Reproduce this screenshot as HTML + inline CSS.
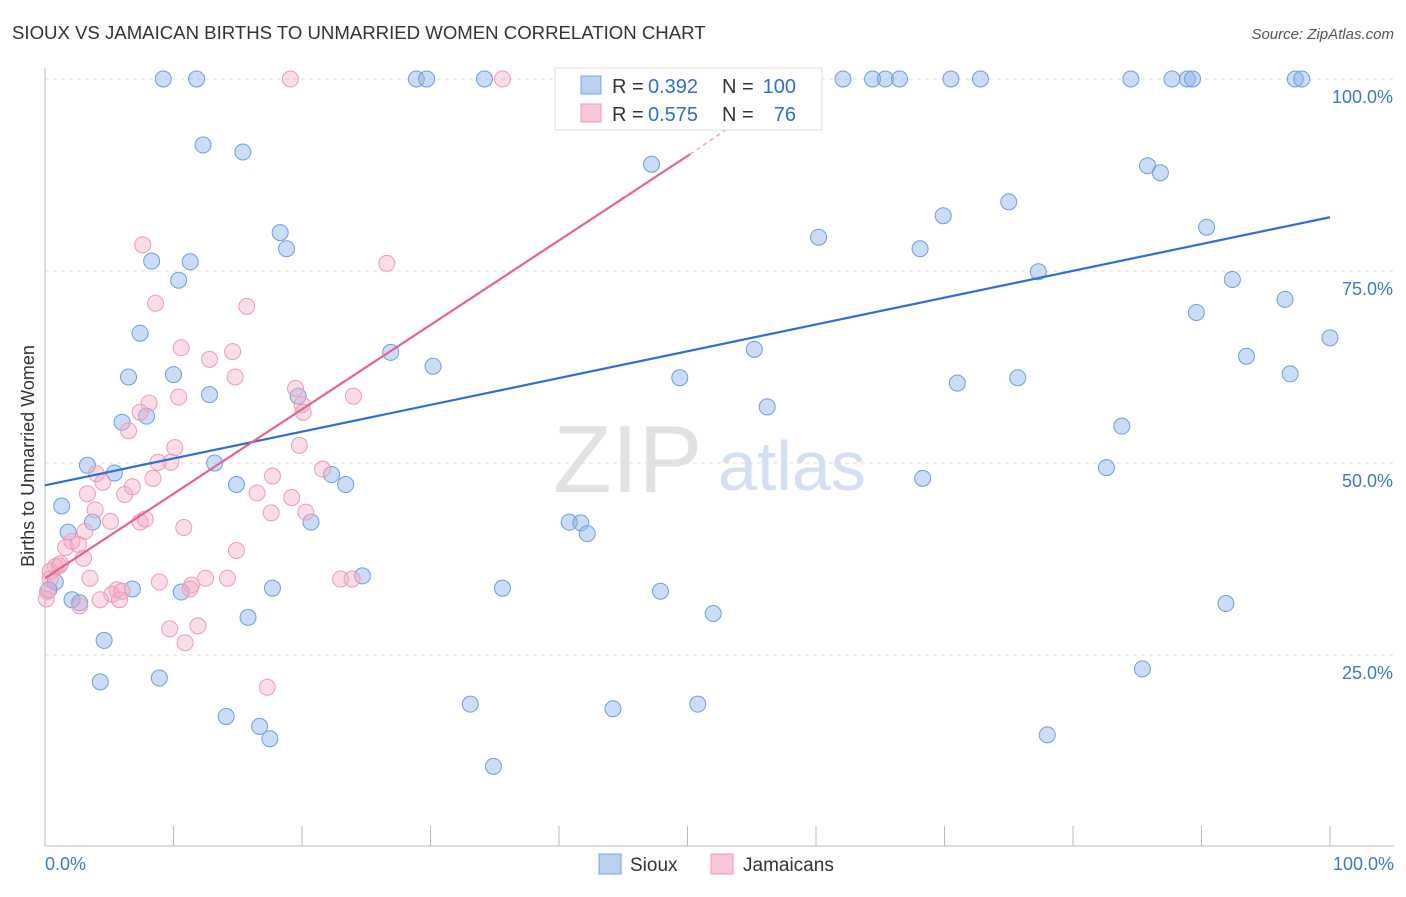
<!DOCTYPE html>
<html><head><meta charset="utf-8"><style>
body{margin:0;background:#fff;font-family:"Liberation Sans",sans-serif;}
svg text{font-family:"Liberation Sans",sans-serif;}
</style></head><body>
<svg id="c" width="1406" height="892">
<text x="12" y="39" font-size="18.6" fill="#333">SIOUX VS JAMAICAN BIRTHS TO UNMARRIED WOMEN CORRELATION CHART</text>
<text x="1394" y="39" font-size="15" fill="#555" font-style="italic" text-anchor="end">Source: ZipAtlas.com</text>
<text x="34" y="456" font-size="18" fill="#333" transform="rotate(-90 34 456)" text-anchor="middle">Births to Unmarried Women</text>
<text x="553" y="492" font-size="96" fill="#e2e2e2" font-family="Liberation Serif">ZIP</text>
<text x="718" y="490" font-size="70" fill="#d3e0f2">atlas</text>
<g id="grid"></g><g id="pts"></g><g id="lines"></g>
<g>
<rect x="555" y="68" width="267" height="62" fill="#fff" stroke="#ddd"/>
<rect x="581" y="76" width="20" height="18" fill="#b9d0f2" stroke="#7aa3e0"/>
<text x="612" y="93" font-size="20" fill="#333">R =</text>
<text x="648" y="93" font-size="20" fill="#2d6fcf">0.392</text>
<text x="722" y="93" font-size="20" fill="#333">N =</text>
<text x="796" y="93" font-size="20" fill="#2d6fcf" text-anchor="end">100</text>
<rect x="581" y="104" width="20" height="18" fill="#f8c6d6" stroke="#ee9ab6"/>
<text x="612" y="121" font-size="20" fill="#333">R =</text>
<text x="648" y="121" font-size="20" fill="#2d6fcf">0.575</text>
<text x="722" y="121" font-size="20" fill="#333">N =</text>
<text x="796" y="121" font-size="20" fill="#2d6fcf" text-anchor="end">76</text>
</g>
<g>
<rect x="599" y="854" width="22" height="20" fill="#b9d0f2" stroke="#7aa3e0"/>
<text x="630" y="871" font-size="19" fill="#333">Sioux</text>
<rect x="711" y="854" width="22" height="20" fill="#f8c6d6" stroke="#ee9ab6"/>
<text x="743" y="871" font-size="19" fill="#333">Jamaicans</text>
</g>
<text x="45" y="870" font-size="18" fill="#3a78d4">0.0%</text>
<text x="1394" y="870" font-size="18" fill="#3a78d4" text-anchor="end">100.0%</text>
</svg>
<script>
const yTicks=[100,75,50,25];
const yTickLabels=["100.0%","75.0%","50.0%","25.0%"];
const siouxX=[9.2,11.8,28.9,29.7,34.2,43.3,50.2,59.7,62.1,64.4,65.4,66.5,70.5,72.8,84.5,87.7,88.9,89.3,97.3,97.8,12.3,15.4,47.2,85.8,86.8,75,69.9,90.4,18.3,18.8,60.2,68.1,8.3,11.3,10.4,77.3,92.4,96.5,89.6,100,7.4,26.9,55.2,30.2,93.5,6.5,10,49.4,71,75.7,96.9,12.8,19.7,56.2,6,7.9,83.8,13.2,68.3,82.6,3.3,5.4,22.3,14.9,23.4,1.3,3.7,1.8,20.7,40.8,41.7,42.2,0.8,6.8,10.6,17.7,35.6,24.7,2.1,2.7,47.9,52,15.8,91.9,4.6,8.9,4.3,85.4,33.1,50.8,44.2,14.1,16.7,17.5,78,34.9,0.3];
const siouxY=[100,100,100,100,100,100,100,100,100,100,100,100,100,100,100,100,100,100,100,100,91.4,90.5,88.9,88.7,87.8,84,82.2,80.7,80,77.9,79.4,77.9,76.3,76.2,73.8,74.9,73.9,71.3,69.6,66.3,66.9,64.4,64.8,62.6,63.9,61.2,61.5,61.1,60.4,61.1,61.6,58.9,58.7,57.3,55.3,56.1,54.8,50,48,49.4,49.7,48.7,48.5,47.2,47.2,44.4,42.3,41,42.3,42.3,42.2,40.8,34.5,33.6,33.2,33.7,33.7,35.3,32.2,31.8,33.3,30.4,29.9,31.7,26.9,22,21.5,23.2,18.6,18.6,18,17,15.7,14.1,14.6,10.5,33.5];
const jamX=[19.1,35.6,7.6,26.6,8.6,15.7,10.6,12.8,14.6,14.8,19.5,10.4,8.1,20,24,20.1,7.4,6.5,10.1,19.8,8.8,9.8,21.6,4,17.7,4.5,8.4,6.2,6.8,3.3,16.5,19.2,5.1,7.4,7.8,20.3,17.6,3.9,10.8,3.1,2.1,1.6,2.6,1.1,3,14.9,0.8,0.4,0.1,0.2,3.5,8.9,11.4,12.5,14.2,23,23.9,11.3,4.3,5.6,5.2,5.8,6,2.7,9.7,11.9,10.9,17.3,1.2,0.4];
const jamY=[100,100,78.4,76,70.8,70.4,65,63.5,64.5,61.2,59.7,58.6,57.8,57.6,58.7,56.6,56.6,54.2,52,52.3,50.1,50.1,49.2,48.6,48.3,47.5,48,45.9,46.9,46,46.1,45.5,42.4,42.3,42.7,43.6,43.5,43.9,41.6,41.1,39.8,39,39.4,36.6,37.6,38.6,36.5,35.9,32.3,33.3,35,34.5,34.1,35,35,34.9,34.9,33.6,32.2,33.5,32.9,32.2,33.3,31.4,28.4,28.8,26.6,20.8,36.9,34.9];
const siouxLine=[0,47.1,100,82];
const jamLine=[0,35,50.2,90.2,55.2,95.9];
const sx=v=>45+v*12.85, sy=v=>847-v*7.68;
const ns='http://www.w3.org/2000/svg';
function mk(t,a,p){const e=document.createElementNS(ns,t);for(const k in a)e.setAttribute(k,a[k]);p.appendChild(e);return e;}
const grid=document.getElementById('grid');
yTicks.forEach((t,i)=>{
 const l=mk('line',{x1:45,x2:1394,y1:sy(t),y2:sy(t),stroke:'#ddd','stroke-dasharray':'4,4'},grid);
 
 
 const tx=mk('text',{x:1393,y:sy(t)+24,'font-size':18,fill:'#3a78d4','text-anchor':'end'},grid);
 tx.textContent=yTickLabels[i];
 
 
});
const ax=mk('line',{x1:45,x2:45,y1:68,y2:846,stroke:'#bbb'},grid);


const bx=mk('line',{x1:45,x2:1394,y1:846,y2:846,stroke:'#bbb'},grid);


for(let i=0;i<=10;i++){const t=mk('line',{x1:sx(i*10),x2:sx(i*10),y1:826,y2:846,stroke:'#bbb'},grid);
 
 }
const pts=document.getElementById('pts');
siouxX.forEach((x,i)=>{const c=mk('circle',{cx:sx(x),cy:sy(siouxY[i]),r:8,fill:'rgba(140,180,235,0.45)',stroke:'#6d9de0','stroke-width':1},pts);
 
 });
jamX.forEach((x,i)=>{const c=mk('circle',{cx:sx(x),cy:sy(jamY[i]),r:8,fill:'rgba(245,170,195,0.4)',stroke:'#ef9ab8','stroke-width':1},pts);
 
 });
const lines=document.getElementById('lines');
const b=mk('line',{x1:sx(siouxLine[0]),y1:sy(siouxLine[1]),x2:sx(siouxLine[2]),y2:sy(siouxLine[3]),stroke:'#2d6fd6','stroke-width':2.2},lines);


const p=mk('line',{x1:sx(jamLine[0]),y1:sy(jamLine[1]),x2:sx(jamLine[2]),y2:sy(jamLine[3]),stroke:'#e8628e','stroke-width':2.2},lines);


const pd=mk('line',{x1:sx(jamLine[2]),y1:sy(jamLine[3]),x2:sx(jamLine[4]),y2:sy(jamLine[5]),stroke:'#f0a0bb','stroke-width':1.5,'stroke-dasharray':'4,4'},lines);


</script>
</body></html>
